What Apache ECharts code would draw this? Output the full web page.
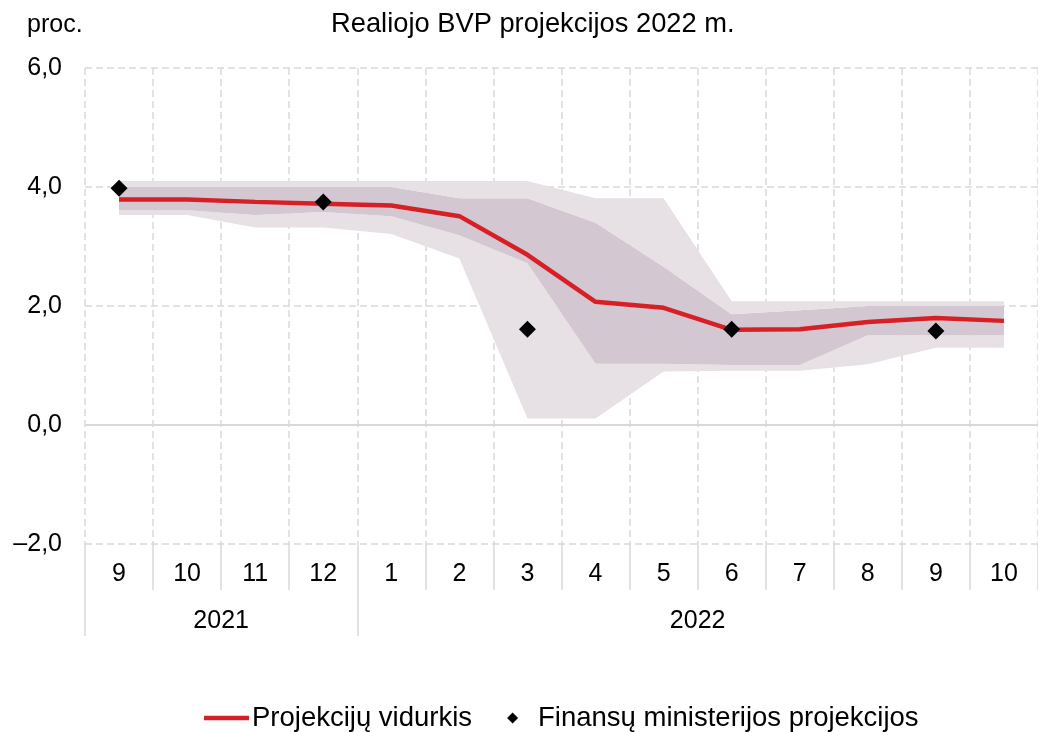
<!DOCTYPE html>
<html>
<head>
<meta charset="utf-8">
<script src="https://cdn.jsdelivr.net/npm/echarts@6/dist/echarts.min.js"></script>
<style>
  html, body { margin: 0; padding: 0; background: #fff; }
  #chart { width: 1038px; height: 732px; }
</style>
</head>
<body>
<div id="chart"></div>
<script>
// mėnesiai ir metai
var months = ['9', '10', '11', '12', '1', '2', '3', '4', '5', '6', '7', '8', '9', '10'];
var years = ['2021', '2022'];
var yearSpans = [4, 10];

// projekcijų intervalai (proc.)
var outerBottom = [3.53, 3.53, 3.32, 3.32, 3.21, 2.80, 0.11, 0.11, 0.90, 0.91, 0.91, 1.02, 1.30, 1.30];
var innerBottom = [3.61, 3.61, 3.53, 3.58, 3.51, 3.19, 2.72, 1.03, 1.03, 1.01, 1.01, 1.51, 1.51, 1.51];
var innerTop = [4.00, 4.00, 4.00, 4.00, 4.00, 3.81, 3.81, 3.40, 2.66, 1.86, 1.93, 2.00, 2.00, 2.00];
var outerTop = [4.10, 4.10, 4.10, 4.10, 4.10, 4.10, 4.10, 3.81, 3.81, 2.08, 2.08, 2.08, 2.08, 2.08];

var median = [3.79, 3.79, 3.75, 3.72, 3.69, 3.51, 2.86, 2.07, 1.97, 1.60, 1.61, 1.73, 1.80, 1.75];
var ministry = [3.98, '-', '-', 3.75, '-', '-', 1.61, '-', '-', 1.61, '-', '-', 1.58, '-'];

var yTicks = [-2, 0, 2, 4, 6];

var FONT = '"Liberation Sans", Arial, sans-serif';
var GRID_COLOR = '#d9d9d9';
var LIGHT = '#e7e1e6';
var DARK = '#d3c7d1';
var RED = '#d71f26';

// legendos ikonos 45x12 dėžutėje (taškai kampuose laiko mastelį)
var LINE_ICON = 'path://M0,0L0.01,0M0,12L0.01,12M0,3.7L45,3.7L45,8.3L0,8.3Z';
var DIAMOND_ICON = 'path://M0,0L0.01,0M45,12L44.99,12M17,6L22.5,0.5L28,6L22.5,11.5Z';

function diff(a, b) {
  return a.map(function (v, i) { return +(v - b[i]).toFixed(3); });
}

// metų ribos ir vidurio taškai
var yearBounds = [0];
var yearMids = [];
var acc = 0;
yearSpans.forEach(function (n) {
  yearMids.push(acc + n / 2);
  acc += n;
  yearBounds.push(acc);
});

var chart = echarts.init(document.getElementById('chart'));

function bandSeries(name, data, color) {
  return {
    name: name,
    type: 'line',
    stack: 'band',
    data: data,
    symbol: 'none',
    silent: true,
    lineStyle: { width: 0, opacity: 0 },
    areaStyle: color ? { color: color, opacity: 1 } : undefined,
    z: 1
  };
}

var option = {
  animation: false,
  textStyle: { fontFamily: FONT, color: '#000' },
  title: [
    {
      text: 'Realiojo BVP projekcijos 2022 m.',
      left: 326, top: 6,
      textStyle: { fontFamily: FONT, fontSize: 27.3, fontWeight: 'normal', color: '#000' }
    },
    {
      text: 'proc.',
      left: 22, top: 8,
      textStyle: { fontFamily: FONT, fontSize: 25, fontWeight: 'normal', color: '#000' }
    }
  ],
  legend: {
    data: [
      { name: 'Projekcijų vidurkis', icon: LINE_ICON, itemStyle: { color: RED, borderWidth: 0 } },
      { name: 'Finansų ministerijos projekcijos', icon: DIAMOND_ICON, itemStyle: { color: '#000', borderWidth: 0 } }
    ],
    left: 199,
    top: 699,
    itemWidth: 45,
    itemHeight: 12,
    itemGap: 18,
    textStyle: { fontFamily: FONT, fontSize: 27.5, color: '#000', padding: [0, 0, 0, -2] }
  },
  grid: { left: 85, right: -9, top: 68, bottom: 188, containLabel: false },
  xAxis: [
    {
      type: 'category',
      data: months,
      boundaryGap: true,
      axisLine: { show: false, onZero: false },
      axisTick: { show: true, interval: 0, length: 46, lineStyle: { color: GRID_COLOR, width: 1.5 } },
      axisLabel: { interval: 0, margin: 18, fontSize: 25, color: '#000', fontFamily: FONT },
      splitLine: { show: true, interval: 0, lineStyle: { color: GRID_COLOR, width: 1.5, type: [7, 4] } }
    },
    {
      type: 'value',
      min: 0,
      max: months.length,
      position: 'bottom',
      axisLine: { show: false, onZero: false },
      splitLine: { show: false },
      axisTick: { show: true, customValues: yearBounds.slice(0, -1), length: 92, lineStyle: { color: GRID_COLOR, width: 1.5 } },
      axisLabel: {
        customValues: yearMids,
        margin: 65,
        fontSize: 25,
        color: '#000',
        fontFamily: FONT,
        formatter: function (v) { return years[yearMids.indexOf(v)] || ''; }
      }
    }
  ],
  yAxis: {
    type: 'value',
    min: yTicks[0],
    max: yTicks[yTicks.length - 1],
    interval: 2,
    axisLine: { show: false },
    axisTick: { show: false },
    axisLabel: {
      margin: 23, fontSize: 25, color: '#000', fontFamily: FONT,
      formatter: function (v) { return v.toFixed(1).replace('.', ',').replace('-', '–'); }
    },
    splitLine: { show: true, lineStyle: { color: GRID_COLOR, width: 1.5, type: [7, 4] } }
  },
  series: [
    bandSeries('base', outerBottom, null),
    bandSeries('outerLow', diff(innerBottom, outerBottom), LIGHT),
    bandSeries('inner', diff(innerTop, innerBottom), DARK),
    bandSeries('outerHigh', diff(outerTop, innerTop), LIGHT),
    {
      name: 'Projekcijų vidurkis',
      type: 'line',
      data: median,
      symbol: 'none',
      color: RED,
      lineStyle: { color: RED, width: 4.5 },
      z: 5,
      markLine: {
        silent: true,
        symbol: 'none',
        label: { show: false },
        lineStyle: { color: GRID_COLOR, width: 2, type: 'solid' },
        data: [{ yAxis: 0 }],
        z: 0
      }
    },
    {
      name: 'Finansų ministerijos projekcijos',
      type: 'scatter',
      data: ministry,
      symbol: 'diamond',
      symbolSize: 17,
      color: '#000',
      itemStyle: { color: '#000', opacity: 1 },
      z: 6
    }
  ]
};

chart.setOption(option);
</script>
</body>
</html>
